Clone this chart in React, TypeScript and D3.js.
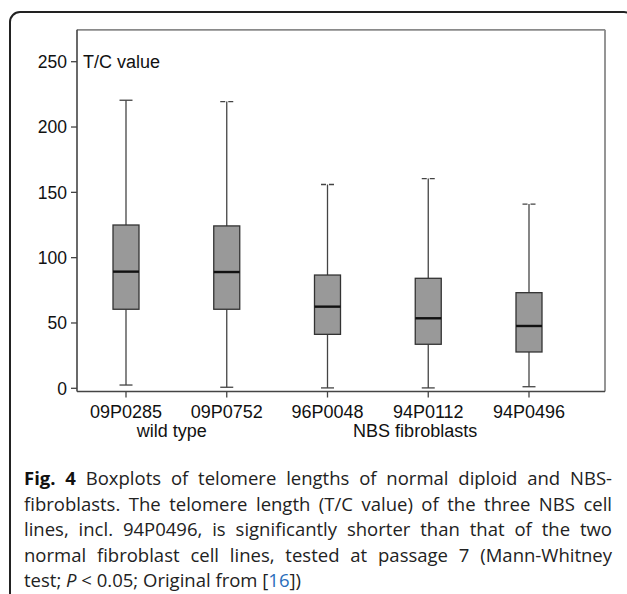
import React, { useEffect, useRef } from "react";
import * as d3 from "d3";

// ---- data ----
const categories = ["09P0285", "09P0752", "96P0048", "94P0112", "94P0496"];
const whiskerLow = [2.5, 0.8, 0.3, 0.3, 1.2];
const q1 = [60.5, 60.5, 41.3, 33.7, 27.8];
const median = [89.3, 89.0, 62.5, 53.6, 47.7];
const q3 = [125, 124.3, 86.7, 84.2, 73.2];
const whiskerHigh = [220.5, 219.5, 156, 160.5, 141];
const yTicks = [0, 50, 100, 150, 200, 250];
const groupLabels = ["wild type", "NBS fibroblasts"];
const groupPos = [0.454, 2.87];
const dashedTopCap = [false, true, true, true, true];

const captionLines = [
  "Boxplots of telomere lengths of normal diploid and NBS-",
  "fibroblasts. The telomere length (T/C value) of the three NBS cell",
  "lines, incl. 94P0496, is significantly shorter than that of the two",
  "normal fibroblast cell lines, tested at passage 7 (Mann-Whitney",
];

const W = 627;
const H = 594;

export default function App() {
  const capRefs = useRef<(SVGTextElement | null)[]>([]);

  const x = d3.scaleLinear().domain([0, 4]).range([126, 529]);
  const y = d3.scaleLinear().domain([0, 250]).range([388.3, 61.7]);

  const frameLeft = 77;
  const frameRight = 605;
  const frameTop = y(274.4);
  const frameBottom = y(-2.45);
  const boxW = 26;
  const capW = 13;

  const capLeft = 24;
  const capRight = 612;
  const capBase0 = 485;
  const capStep = 25.6;
  const capSize = 18.5;

  useEffect(() => {
    capRefs.current.forEach((el) => {
      if (!el) return;
      el.setAttribute("word-spacing", "0");
      const natural = el.getComputedTextLength();
      const txt = el.textContent || "";
      const spaces = (txt.match(/ /g) || []).length;
      if (spaces > 0) {
        const extra = (capRight - capLeft - natural) / spaces;
        el.setAttribute("word-spacing", String(extra));
      }
    });
  }, []);

  const chartFont = "'Liberation Sans', Arial, sans-serif";
  const capFont = "'Open Sans', 'Noto Sans', sans-serif";

  return (
    <svg
      width={W}
      height={H}
      style={{ position: "fixed", left: 0, top: 0, background: "#fff" }}
    >
      <rect x={0} y={0} width={W} height={H} fill="#fff" />
      {/* outer rounded border */}
      <rect
        x={10}
        y={12}
        width={624}
        height={620}
        rx={10}
        ry={10}
        fill="none"
        stroke="#222"
        strokeWidth={2}
      />

      {/* plot frame */}
      <line x1={frameLeft} x2={frameRight} y1={frameTop} y2={frameTop} stroke="#8a8a8a" strokeWidth={1.8} />
      <line x1={frameRight} x2={frameRight} y1={frameTop} y2={frameBottom} stroke="#8a8a8a" strokeWidth={1.8} />
      <line x1={frameLeft} x2={frameLeft} y1={frameTop} y2={frameBottom} stroke="#444" strokeWidth={1.6} />
      <line x1={frameLeft} x2={frameRight} y1={frameBottom} y2={frameBottom} stroke="#444" strokeWidth={1.6} />

      {/* y ticks */}
      {yTicks.map((t) => (
        <g key={t}>
          <line x1={frameLeft - 6} x2={frameLeft} y1={y(t)} y2={y(t)} stroke="#444" strokeWidth={1.3} />
          <text
            x={frameLeft - 10}
            y={y(t)}
            dy="0.36em"
            textAnchor="end"
            fontFamily={chartFont}
            fontSize={17.5}
            fill="#111"
          >
            {t}
          </text>
        </g>
      ))}
      <text x={83} y={y(250)} dy="0.36em" fontFamily={chartFont} fontSize={18} fill="#111">
        T/C value
      </text>

      {/* boxes */}
      {categories.map((c, i) => {
        const cx = x(i);
        return (
          <g key={c}>
            <line x1={cx} x2={cx} y1={y(whiskerHigh[i])} y2={y(q3[i])} stroke="#444" strokeWidth={1.3} />
            <line x1={cx} x2={cx} y1={y(q1[i])} y2={y(whiskerLow[i])} stroke="#444" strokeWidth={1.3} />
            <line
              x1={cx - capW / 2}
              x2={cx + capW / 2}
              y1={y(whiskerHigh[i])}
              y2={y(whiskerHigh[i])}
              stroke="#444"
              strokeWidth={1.3}
              strokeDasharray={dashedTopCap[i] ? "5 3 5" : undefined}
            />
            <line
              x1={cx - capW / 2}
              x2={cx + capW / 2}
              y1={y(whiskerLow[i])}
              y2={y(whiskerLow[i])}
              stroke="#444"
              strokeWidth={1.3}
            />
            <rect
              x={cx - boxW / 2}
              y={y(q3[i])}
              width={boxW}
              height={y(q1[i]) - y(q3[i])}
              fill="#999"
              stroke="#333"
              strokeWidth={1.3}
            />
            <line
              x1={cx - boxW / 2}
              x2={cx + boxW / 2}
              y1={y(median[i])}
              y2={y(median[i])}
              stroke="#111"
              strokeWidth={2.4}
            />
            <line x1={cx} x2={cx} y1={frameBottom} y2={frameBottom + 6} stroke="#444" strokeWidth={1.3} />
            <text
              x={cx}
              y={418.3}
              textAnchor="middle"
              fontFamily={chartFont}
              fontSize={18}
              fill="#111"
            >
              {c}
            </text>
          </g>
        );
      })}

      {groupLabels.map((g, i) => (
        <text
          key={g}
          x={x(groupPos[i])}
          y={437}
          textAnchor="middle"
          fontFamily={chartFont}
          fontSize={18}
          fill="#111"
        >
          {g}
        </text>
      ))}

      {/* caption */}
      {captionLines.map((line, i) => (
        <text
          key={i}
          ref={(el) => {
            capRefs.current[i] = el;
          }}
          x={capLeft}
          y={capBase0 + i * capStep}
          fontFamily={capFont}
          fontSize={capSize}
          fill="#222"
        >
          {i === 0 ? (
            <>
              <tspan fontWeight="bold" fill="#111">Fig. 4</tspan>
              {" " + line}
            </>
          ) : (
            line
          )}
        </text>
      ))}
      <text x={capLeft} y={capBase0 + 4 * capStep} fontFamily={capFont} fontSize={capSize} fill="#222">
        {"test; "}
        <tspan fontStyle="italic">P</tspan>
        {" < 0.05; Original from ["}
        <tspan fill="#2a6ebb">16</tspan>
        {"])"}
      </text>
    </svg>
  );
}
